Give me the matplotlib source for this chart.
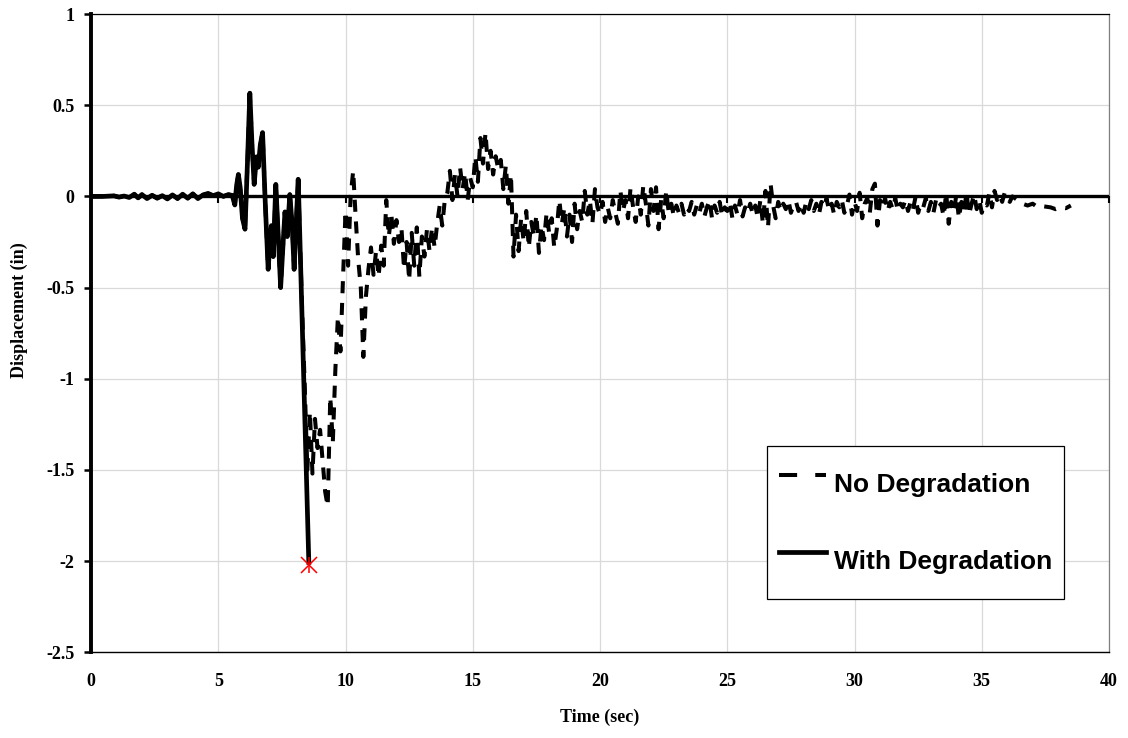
import numpy as np
import matplotlib
matplotlib.use("Agg")
import matplotlib.pyplot as plt
from matplotlib.lines import TICKDOWN, Line2D

# ---------------- data ----------------
# shared response (both models identical up to ~8.1 s)
shared_t = [0.0, 0.5, 0.9, 1.1, 1.3, 1.5, 1.7, 1.85, 2.0, 2.2, 2.4, 2.6, 2.8,
            3.0, 3.2, 3.4, 3.6, 3.8, 4.0, 4.2, 4.4, 4.6, 4.8, 5.0, 5.2, 5.4,
            5.55, 5.65, 5.72, 5.79, 5.86, 5.95, 6.05, 6.15, 6.24, 6.32, 6.41,
            6.5, 6.57, 6.65, 6.74, 6.85, 6.96, 7.03, 7.09, 7.16, 7.26, 7.35,
            7.45, 7.55, 7.62, 7.71, 7.81, 7.9, 7.98, 8.06, 8.14]
shared_y = [0.0, 0.0, 0.003, -0.004, 0.002, -0.006, 0.012, -0.008, 0.010,
            -0.012, 0.006, -0.010, 0.004, -0.014, 0.008, -0.012, 0.012,
            -0.010, 0.014, -0.012, 0.008, 0.016, 0.004, 0.014, 0.0, 0.010,
            0.005, -0.047, 0.06, 0.12, 0.05, -0.12, -0.18, 0.20, 0.566, 0.30,
            0.066, 0.217, 0.16, 0.28, 0.35, -0.05, -0.40, -0.25, -0.16, -0.33,
            0.066, -0.20, -0.50, -0.25, -0.085, -0.22, 0.01, -0.15, -0.40,
            -0.15, 0.094]

# "With Degradation" – collapse after 8.1 s
wd_tail_t = [8.18, 8.56]
wd_tail_y = [-0.10, -2.02]

# "No Degradation" – continues, sampled every 0.1 s from 8.2 s (one row per second)
nd_start = 8.2
nd_step = 0.1
nd_rows = [
    [-0.20, -0.65, -1.05, -1.50, -1.18, -1.52, -1.22, -1.38],                     # 8.2-8.9
    [-1.28, -1.45, -1.62, -1.70, -1.10, -1.35, -0.95, -0.66, -0.85, -0.45],       # 9
    [-0.08, -0.38, 0.00, 0.14, -0.12, -0.35, -0.50, -0.88, -0.55, -0.40],         # 10
    [-0.28, -0.43, -0.30, -0.44, -0.27, -0.38, -0.02, -0.22, -0.10, -0.26],       # 11
    [-0.13, -0.25, -0.18, -0.40, -0.25, -0.46, -0.20, -0.38, -0.17, -0.44],       # 12
    [-0.22, -0.33, -0.18, -0.30, -0.17, -0.28, -0.15, -0.05, -0.16, -0.02],       # 13
    [0.02, 0.14, -0.02, 0.12, 0.00, 0.16, 0.04, 0.13, -0.02, 0.10],               # 14
    [0.05, 0.22, 0.08, 0.32, 0.18, 0.35, 0.15, 0.25, 0.12, 0.22],                 # 15
    [0.15, 0.20, 0.04, 0.17, -0.04, 0.12, -0.33, -0.10, -0.30, -0.12],            # 16
    [-0.25, -0.08, -0.28, -0.14, -0.22, -0.10, -0.31, -0.16, -0.24, -0.09],       # 17
    [-0.20, -0.12, -0.28, -0.18, -0.02, -0.15, -0.06, -0.22, -0.10, -0.25],       # 18
    [-0.04, -0.18, -0.08, -0.14, 0.03, -0.10, -0.02, -0.15, 0.04, -0.06],         # 19
    [-0.10, -0.03, -0.14, -0.06, -0.12, -0.02, -0.09, -0.15, 0.03, -0.08],        # 20
    [-0.02, -0.12, 0.05, -0.06, -0.14, 0.00, -0.10, 0.06, -0.04, -0.16],          # 21
    [0.04, -0.08, 0.05, -0.18, -0.02, -0.12, 0.03, -0.09, -0.04, -0.11],          # 22
    [-0.05, -0.09, -0.04, -0.10, -0.06, -0.08, -0.03, -0.10, -0.05, -0.09],       # 23
    [-0.04, -0.11, -0.06, -0.02, -0.12, -0.05, -0.09, -0.03, -0.11, -0.06],       # 24
    [-0.08, -0.03, -0.12, -0.05, -0.10, -0.02, -0.11, -0.06, -0.09, -0.04],       # 25
    [-0.10, -0.05, -0.12, -0.02, -0.15, 0.03, -0.17, 0.07, -0.05, -0.12],         # 26
    [-0.03, -0.08, -0.04, -0.07, -0.02, -0.09, -0.05, -0.03, -0.08, -0.04],       # 27
    [-0.09, -0.03, -0.07, -0.02, -0.08, -0.04, -0.10, -0.03, -0.06, -0.01],       # 28
    [-0.08, -0.04, -0.10, -0.03, -0.06, -0.02, -0.09, -0.05, 0.01, -0.10],        # 29
    [-0.03, -0.08, 0.02, -0.12, -0.04, -0.01, -0.09, 0.04, 0.07, -0.16],          # 30
    [-0.02, -0.06, -0.01, -0.08, -0.03, -0.07, -0.01, -0.08, -0.04, -0.06],       # 31
    [-0.02, -0.08, -0.03, -0.07, 0.00, -0.09, -0.04, -0.06, -0.01, -0.08],        # 32
    [-0.03, -0.09, -0.02, -0.06, -0.04, -0.11, 0.02, -0.15, -0.03, -0.09],        # 33
    [0.01, -0.12, -0.03, -0.08, 0.02, -0.10, -0.04, 0.01, -0.07, -0.02],          # 34
    [-0.09, -0.04, -0.05, 0.02, -0.06, 0.03, -0.02, 0.01, -0.03, 0.02],           # 35
    [-0.01, -0.03, 0.00],                                                        # 36.0-36.2
]
nd_end_t = [36.4, 36.6, 36.8, 37.0, 37.2, 37.45, 37.7, 37.9, 38.1, 38.3, 38.5]
nd_end_y = [-0.02, -0.04, -0.05, -0.04, -0.06, -0.055, -0.06, -0.07, -0.06, -0.065, -0.05]

x_ticks = [0, 5, 10, 15, 20, 25, 30, 35, 40]
y_ticks = [1, 0.5, 0, -0.5, -1, -1.5, -2, -2.5]
y_tick_labels = ["1", "0.5", "0", "-0.5", "-1", "-1.5", "-2", "-2.5"]
labels = ["No Degradation", "With Degradation"]

# ---------------- assemble series ----------------
nd_vals = [v for row in nd_rows for v in row]
nd_tail_t = [round(nd_start + nd_step * i, 2) for i in range(len(nd_vals))]
nd_t = shared_t + nd_tail_t + nd_end_t
nd_y = shared_y + nd_vals + nd_end_y
wd_t = shared_t + wd_tail_t
wd_y = shared_y + wd_tail_y

# ---------------- figure ----------------
serif = "Liberation Serif"
sans = "Liberation Sans"

fig = plt.figure(figsize=(11.28, 7.38), dpi=100)
ax = fig.add_axes([0.0807, 0.1161, 0.9025, 0.8649])

ax.set_xlim(0, 40)
ax.set_ylim(-2.5, 1)
ax.set_xticks(x_ticks)
ax.set_yticks(y_ticks)
ax.set_yticklabels(y_tick_labels)
ax.grid(True, color="#d9d9d9", lw=0.9, zorder=0)
ax.set_axisbelow(True)

for lab in ax.get_xticklabels() + ax.get_yticklabels():
    lab.set_fontfamily(serif)
    lab.set_fontweight("bold")
    lab.set_fontsize(13)

ax.tick_params(axis="x", length=0, pad=15)
ax.tick_params(axis="y", direction="out", length=5, width=1.8, pad=7)

ax.spines["left"].set_linewidth(2.8)
ax.spines["left"].set_color("black")
ax.spines["bottom"].set_linewidth(1.0)
ax.spines["bottom"].set_color("black")
ax.spines["top"].set_linewidth(0.9)
ax.spines["top"].set_color("black")
ax.spines["right"].set_linewidth(0.9)
ax.spines["right"].set_color("#808080")

# horizontal axis line crossing at zero
ax.axhline(0, color="black", lw=2.4, zorder=4)
ax.plot(x_ticks, [0] * len(x_ticks), ls="none", marker=TICKDOWN, ms=5,
        mew=1.5, color="black", zorder=4, clip_on=False)

nd_line, = ax.plot(nd_t, nd_y, color="black", lw=2.9, dashes=(3.0, 2.4),
                   zorder=5)
wd_line, = ax.plot(wd_t, wd_y, color="black", lw=3.4, zorder=6,
                   solid_joinstyle="round", solid_capstyle="butt")

# collapse marker (Excel-style asterisk)
ax.plot(wd_t[-1], wd_y[-1], marker="x", ms=12, mew=1.1, color="red", zorder=7)
ax.plot(wd_t[-1], wd_y[-1], marker="|", ms=12, mew=1.1, color="red", zorder=7)

ax.set_xlabel("Time (sec)", fontfamily=serif, fontweight="bold", fontsize=13)
ax.set_ylabel("Displacement (in)", fontfamily=serif, fontweight="bold", fontsize=13)
ax.xaxis.set_label_coords(0.5, -0.088)
ax.yaxis.set_label_coords(-0.062, 0.536)

# legend (proxy handles carry the legend's longer dash pattern)
nd_proxy = Line2D([], [], color="black", lw=2.9, dashes=(4.5, 4.5))
wd_proxy = Line2D([], [], color="black", lw=3.4)
leg = ax.legend([nd_proxy, wd_proxy], labels, loc="upper right",
                bbox_to_anchor=(0.956, 0.323), borderaxespad=0,
                prop={"family": sans, "weight": "bold", "size": 19},
                handlelength=1.78, handletextpad=0.30, borderpad=0.46,
                handleheight=2.64, labelspacing=0.95, fancybox=False,
                framealpha=1, edgecolor="black")
leg.get_frame().set_linewidth(0.9)
leg.set_zorder(10)

fig.savefig("out.png", dpi=100)
